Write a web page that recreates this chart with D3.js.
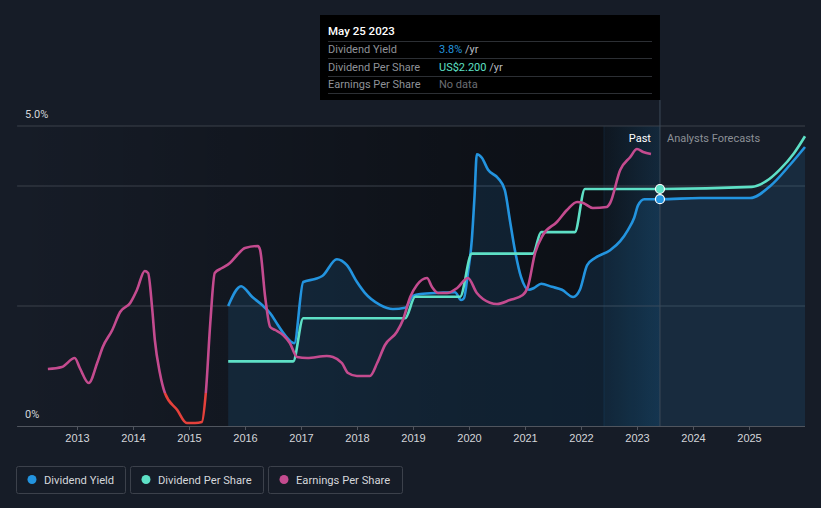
<!DOCTYPE html>
<html><head><meta charset="utf-8">
<script src="https://cdn.jsdelivr.net/npm/d3@7"></script>
<style>
html,body{margin:0;padding:0;background:#161c27;}
svg{display:block;font-family:Roboto,"Open Sans",sans-serif;}
</style></head>
<body><svg id="chart" width="821" height="508"></svg>
<script>
// ---- data (decimal years) ----
const years = [2013,2014,2015,2016,2017,2018,2019,2020,2021,2022,2023,2024,2025];
const yieldDates = [2015.70,2015.93,2016.13,2016.30,2016.45,2016.59,2016.71,2016.88,2017.04,2017.25,2017.38,2017.64,2017.82,2018.00,2018.14,2018.41,2018.64,2018.86,2019.00,2019.13,2019.48,2019.75,2019.86,2019.91,2019.98,2020.05,2020.10,2020.14,2020.23,2020.34,2020.52,2020.64,2020.73,2020.82,2020.93,2021.07,2021.16,2021.29,2021.48,2021.66,2021.86,2021.98,2022.11,2022.25,2022.52,2022.70,2022.84,2022.95,2023.02,2023.13,2023.41,2024.13,2025.02,2025.38,2025.73,2026.00];
const yieldValues = [2.00,2.33,2.15,2.02,1.88,1.68,1.52,1.38,2.40,2.45,2.50,2.78,2.68,2.40,2.22,2.02,1.95,1.97,2.17,2.20,2.22,2.23,2.10,2.13,2.55,3.10,3.85,4.53,4.47,4.27,4.13,3.93,3.43,2.93,2.48,2.27,2.30,2.37,2.32,2.27,2.15,2.27,2.68,2.80,2.93,3.08,3.27,3.47,3.68,3.78,3.78,3.80,3.80,4.00,4.35,4.65];
const dpsDates = [2015.70,2016.86,2017.04,2018.86,2019.04,2019.84,2020.05,2021.14,2021.29,2021.89,2022.07,2023.41,2025.05,2025.30,2025.55,2025.80,2026.00];
const dpsValues = [0.60,0.60,1.00,1.00,1.20,1.20,1.60,1.60,1.80,1.80,2.20,2.20,2.22,2.27,2.38,2.53,2.69];
const epsDates = [2012.48,2012.73,2012.96,2013.05,2013.21,2013.36,2013.46,2013.63,2013.77,2013.95,2014.07,2014.21,2014.27,2014.34,2014.39,2014.48,2014.57,2014.79,2014.96,2015.11,2015.23,2015.30,2015.38,2015.46,2015.59,2015.73,2015.86,2016.00,2016.23,2016.27,2016.36,2016.45,2016.54,2016.68,2016.80,2016.93,2017.11,2017.46,2017.57,2017.73,2017.84,2018.00,2018.23,2018.36,2018.50,2018.71,2018.82,2018.95,2019.07,2019.25,2019.34,2019.45,2019.61,2019.79,2019.98,2020.14,2020.25,2020.50,2020.73,2020.96,2021.05,2021.18,2021.32,2021.57,2021.75,2021.93,2022.04,2022.21,2022.46,2022.52,2022.70,2022.88,2023.00,2023.11,2023.25];
const epsValues = [0.48,0.52,0.70,0.50,0.20,0.60,0.92,1.26,1.62,1.80,2.06,2.44,2.40,1.72,1.06,0.40,0.00,-0.34,-0.60,-0.60,-0.58,0.00,1.40,2.40,2.50,2.60,2.76,2.90,2.94,2.86,1.92,1.32,1.26,1.16,1.00,0.72,0.70,0.74,0.72,0.60,0.40,0.34,0.34,0.60,0.96,1.22,1.46,1.92,2.16,2.30,2.12,2.00,2.00,2.10,2.30,2.00,1.88,1.78,1.86,1.96,2.12,2.80,3.16,3.42,3.66,3.82,3.80,3.70,3.72,3.80,4.46,4.72,4.88,4.82,4.78];
const gridValues = [2,4,5];
const yLabelValues = [0,5];
const yLabels = ["0%","5.0%"];
const nowDate = 2023.41, pastStart = 2022.41, plotStart = 2011.93, plotEnd = 2026.0;
const tooltipTitle = "May 25 2023";
const tooltipRows = [
  {label:"Dividend Yield", value:"3.8%", unit:" /yr", color:"#2394df"},
  {label:"Dividend Per Share", value:"US$2.200", unit:" /yr", color:"#5ee0c6"},
  {label:"Earnings Per Share", value:"No data", unit:"", color:"#6b6e74"}
];
const legendItems = [
  {name:"Dividend Yield", color:"#2394df"},
  {name:"Dividend Per Share", color:"#5ee0c6"},
  {name:"Earnings Per Share", color:"#c44b8f"}
];

// ---- scales ----
const x = d3.scaleLinear().domain([2013,2025]).range([77,749]);
const yY = d3.scaleLinear().domain([0,5]).range([426,126]);
const yD = d3.scaleLinear().domain([0,2.785]).range([426,126]);
const yE = d3.scaleLinear().domain([-0.66,5.34]).range([426,126]);
const L = x(plotStart), R = x(plotEnd), T = yY(5), B = yY(0);

const svg = d3.select("#chart");
const defs = svg.append("defs");
svg.append("rect").attr("width",821).attr("height",508).attr("fill","#161c27");

// past darkening
const g1 = defs.append("linearGradient").attr("id","pastDark").attr("x1","0").attr("x2","1").attr("y1","0").attr("y2","0");
g1.append("stop").attr("offset","0").attr("stop-color","#000").attr("stop-opacity",0);
g1.append("stop").attr("offset","0.7").attr("stop-color","#000").attr("stop-opacity",0.38);
g1.append("stop").attr("offset","1").attr("stop-color","#000").attr("stop-opacity",0.45);
svg.append("rect").attr("x",L).attr("y",T).attr("width",x(nowDate)-L).attr("height",B-T).attr("fill","url(#pastDark)");

// band
const g2 = defs.append("linearGradient").attr("id","band").attr("x1","0").attr("x2","1").attr("y1","0").attr("y2","0");
g2.append("stop").attr("offset","0").attr("stop-color","#2a7fc0").attr("stop-opacity",0.06);
g2.append("stop").attr("offset","1").attr("stop-color","#2a7fc0").attr("stop-opacity",0.22);
svg.append("rect").attr("x",x(pastStart)).attr("y",T).attr("width",x(nowDate)-x(pastStart)).attr("height",B-T).attr("fill","url(#band)");
svg.append("line").attr("x1",x(pastStart)).attr("x2",x(pastStart)).attr("y1",T).attr("y2",B).attr("stroke","#2a7fc0").attr("stroke-opacity",0.15);

// gridlines
svg.selectAll(".grid").data(gridValues).enter().append("line")
  .attr("x1",L).attr("x2",R).attr("y1",d=>yY(d)).attr("y2",d=>yY(d))
  .attr("stroke","#3a404a").attr("stroke-width",1);

const curve = d3.curveMonotoneX;
// yield area
const yieldData = yieldDates.map((d,i)=>[d,yieldValues[i]]);
svg.append("path").datum(yieldData)
  .attr("d",d3.area().x(d=>x(d[0])).y0(B).y1(d=>yY(d[1])).curve(curve))
  .attr("fill","#2394df").attr("fill-opacity",0.13);

// baseline + x axis
svg.append("line").attr("x1",L).attr("x2",R).attr("y1",B+0.5).attr("y2",B+0.5).attr("stroke","#50555e");
const ax = svg.append("g").attr("transform",`translate(0,${B})`)
  .call(d3.axisBottom(x).tickValues(years).tickFormat(d3.format("d")).tickSize(4).tickPadding(4));
ax.select(".domain").remove();
ax.selectAll(".tick line").attr("stroke","#50555e");
ax.selectAll(".tick text").attr("fill","#d4d6da").attr("font-size",11);

// y labels
svg.selectAll(".ylab").data(yLabelValues).enter().append("text")
  .attr("x",25).attr("y",d=>yY(d)-8).attr("fill","#d4d6da").attr("font-size",11)
  .text((d,i)=>yLabels[i]);

// lines
svg.append("path").datum(yieldData)
  .attr("d",d3.line().x(d=>x(d[0])).y(d=>yY(d[1])).curve(curve))
  .attr("fill","none").attr("stroke","#2394df").attr("stroke-width",2.6);
const dpsData = dpsDates.map((d,i)=>[d,dpsValues[i]]);
svg.append("path").datum(dpsData)
  .attr("d",d3.line().x(d=>x(d[0])).y(d=>yD(d[1])).curve(curve))
  .attr("fill","none").attr("stroke","#5ee0c6").attr("stroke-width",2.6);

const epsData = epsDates.map((d,i)=>[d,epsValues[i]]);
defs.append("clipPath").attr("id","pos").append("rect").attr("x",0).attr("y",0).attr("width",821).attr("height",yE(0));
defs.append("clipPath").attr("id","neg").append("rect").attr("x",0).attr("y",yE(0)).attr("width",821).attr("height",508);
const epsLine = d3.line().x(d=>x(d[0])).y(d=>yE(d[1])).curve(curve);
svg.append("path").datum(epsData).attr("d",epsLine).attr("clip-path","url(#pos)")
  .attr("fill","none").attr("stroke","#c44b8f").attr("stroke-width",2.6);
svg.append("path").datum(epsData).attr("d",epsLine).attr("clip-path","url(#neg)")
  .attr("fill","none").attr("stroke","#e5413b").attr("stroke-width",2.6);

// now line
svg.append("line").attr("x1",x(nowDate)).attr("x2",x(nowDate)).attr("y1",100).attr("y2",B)
  .attr("stroke","#3c4a58").attr("stroke-width",1);
svg.append("text").attr("x",x(nowDate)-9).attr("y",142).attr("text-anchor","end")
  .attr("fill","#ffffff").attr("font-size",11).text("Past");
svg.append("text").attr("x",x(nowDate)+7).attr("y",142)
  .attr("fill","#8c9096").attr("font-size",11).text("Analysts Forecasts");

// markers
svg.append("circle").attr("cx",x(nowDate)).attr("cy",yD(2.2)).attr("r",4.5)
  .attr("fill","#5ee0c6").attr("stroke","#ffffff").attr("stroke-width",1.2);
svg.append("circle").attr("cx",x(nowDate)).attr("cy",yY(3.78)).attr("r",4.5)
  .attr("fill","#2394df").attr("stroke","#ffffff").attr("stroke-width",1.2);

// tooltip
const tt = svg.append("g");
tt.append("rect").attr("x",320).attr("y",15).attr("width",x(nowDate)-320).attr("height",85).attr("fill","#000000");
tt.append("text").attr("x",328).attr("y",35).attr("fill","#ffffff").attr("font-size",11.5).attr("font-weight",500).text(tooltipTitle);
[41,58,76,93].forEach(yv=>tt.append("line").attr("x1",328).attr("x2",652).attr("y1",yv+0.5).attr("y2",yv+0.5).attr("stroke","#2c2f34"));
tooltipRows.forEach((r,i)=>{
  const yy = 53 + i*17.5;
  tt.append("text").attr("x",328).attr("y",yy).attr("fill","#8f9298").attr("font-size",11).text(r.label);
  const t = tt.append("text").attr("x",439).attr("y",yy).attr("font-size",11);
  t.append("tspan").attr("fill",r.color).text(r.value);
  if (r.unit) t.append("tspan").attr("fill","#b8bbc0").text(r.unit);
});

// legend
const legX = [16,130,268], legW = [110,134,135];
legendItems.forEach((it,i)=>{
  const g = svg.append("g").attr("transform",`translate(${legX[i]},466)`);
  g.append("rect").attr("x",0.5).attr("y",0.5).attr("width",legW[i]-1).attr("height",27).attr("rx",2)
    .attr("fill","none").attr("stroke","#3c414b");
  g.append("circle").attr("cx",16).attr("cy",13.5).attr("r",4.5).attr("fill",it.color);
  g.append("text").attr("x",28).attr("y",17.5).attr("fill","#d4d6da").attr("font-size",11.2).text(it.name);
});
</script></body></html>
